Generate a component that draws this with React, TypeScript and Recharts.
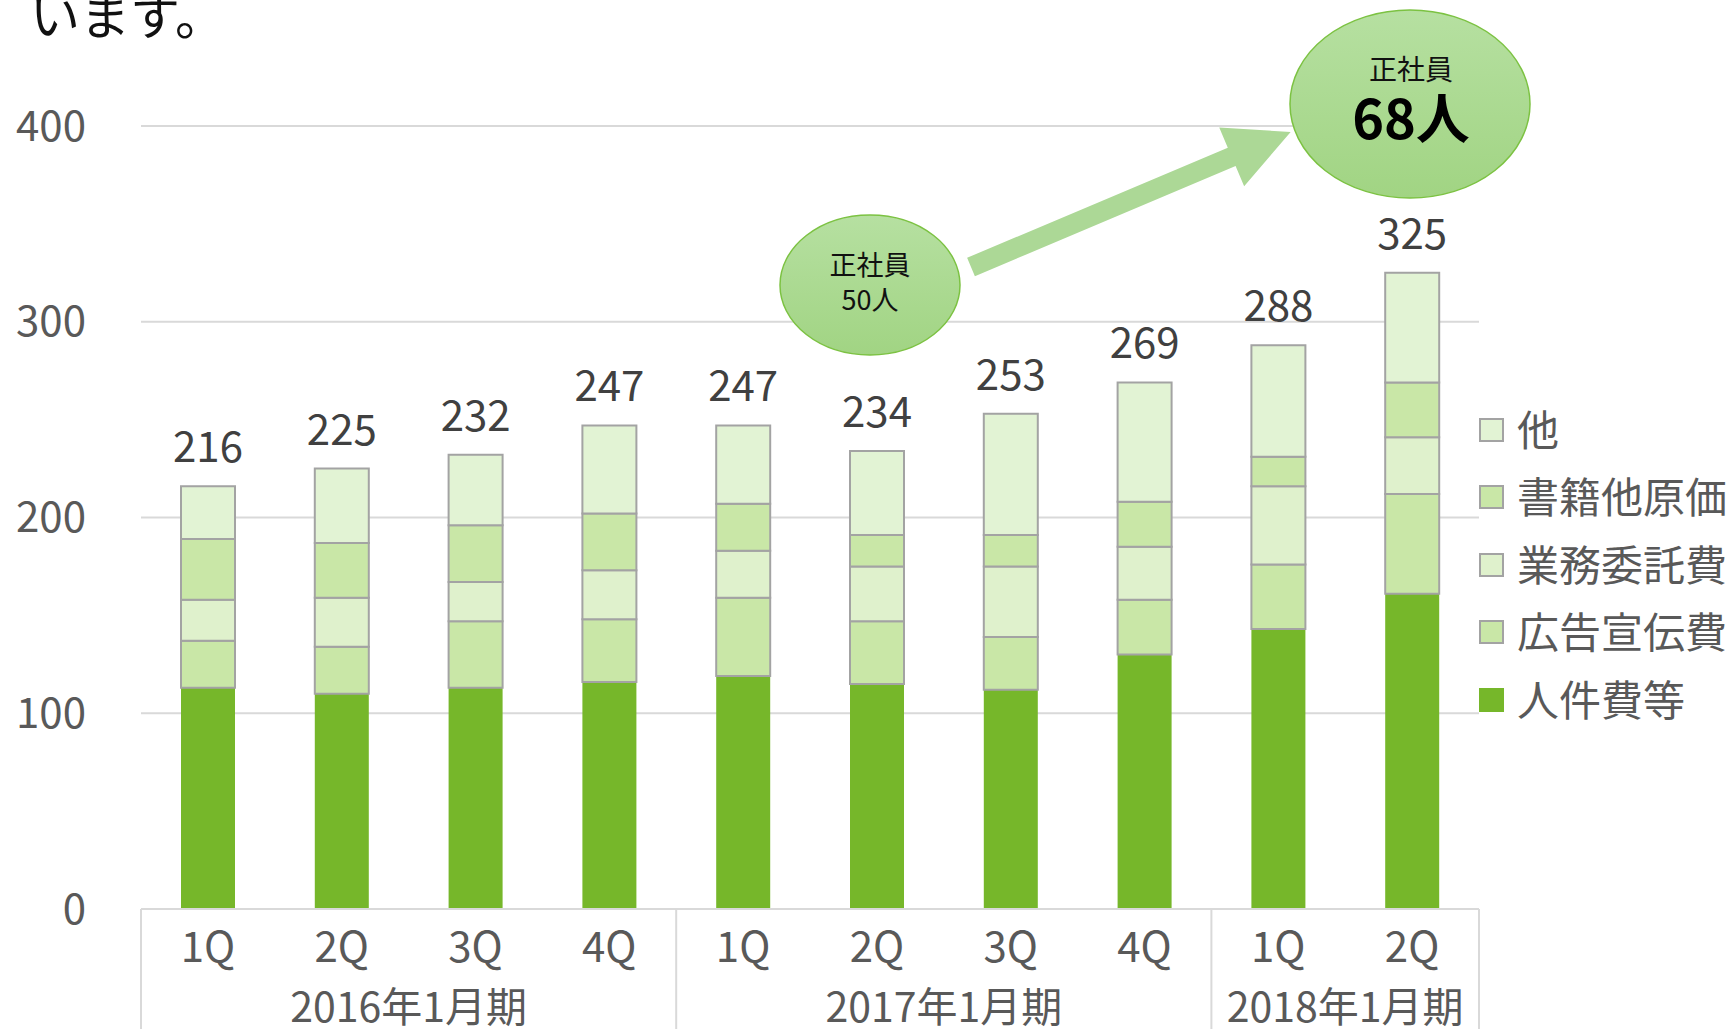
import { BarChart, Bar, XAxis, YAxis, CartesianGrid, Legend, LabelList } from 'recharts';

// 四半期ごとの費用内訳（百万円）
const quarters = ['1Q', '2Q', '3Q', '4Q', '1Q', '2Q', '3Q', '4Q', '1Q', '2Q'];
const fiscalYears = ['2016年1月期', '2017年1月期', '2018年1月期'];
const yearSpans = [4, 4, 2];

const jinkenhi = [113, 110, 113, 116, 119, 115, 112, 130, 143, 161];
const koukoku = [24, 24, 34, 32, 40, 32, 27, 28, 33, 51];
const gyoumu = [21, 25, 20, 25, 24, 28, 36, 27, 40, 29];
const shoseki = [31, 28, 29, 29, 24, 16, 16, 23, 15, 28];
const sonota = [27, 38, 36, 45, 40, 43, 62, 61, 57, 56];
const totals = [216, 225, 232, 247, 247, 234, 253, 269, 288, 325];

const yTicks = [0, 100, 200, 300, 400];

const W = 1729;
const H = 1029;
const Y_AXIS_W = 141;
const LEGEND_W = 250;
const PLOT_W = W - Y_AXIS_W - LEGEND_W;
const BAND = PLOT_W / quarters.length;
const X_AXIS_H = 120;

const FONT = '"Noto Sans CJK JP", "Noto Sans", sans-serif';
const GRID = '#d9d9d9';
const TEXT = '#595959';

const series = [
  { key: 'jinkenhi', name: '人件費等', fill: '#76b72a', stroke: 'none' },
  { key: 'koukoku', name: '広告宣伝費', fill: '#c9e7a7', stroke: '#a3a3a3' },
  { key: 'gyoumu', name: '業務委託費', fill: '#dff1cc', stroke: '#a3a3a3' },
  { key: 'shoseki', name: '書籍他原価', fill: '#c9e7a7', stroke: '#a3a3a3' },
  { key: 'sonota', name: '他', fill: '#e2f3d4', stroke: '#a3a3a3' },
];

const data = quarters.map((q, i) => ({
  q,
  jinkenhi: jinkenhi[i],
  koukoku: koukoku[i],
  gyoumu: gyoumu[i],
  shoseki: shoseki[i],
  sonota: sonota[i],
  total: totals[i],
}));

const groupStarts = yearSpans.map((_, g) => yearSpans.slice(0, g).reduce((a, b) => a + b, 0));

const QuarterTick = (props: any) => {
  const { x, y, payload, index } = props;
  const i = typeof index === 'number' ? index : payload.index;
  const g = groupStarts.indexOf(i);
  return (
    <g>
      <text x={x} y={y + 34} textAnchor="middle" dominantBaseline="central" fontSize={42} fill={TEXT} fontFamily={FONT}>
        {payload.value}
      </text>
      {g >= 0 && (
        <>
          <line x1={x - BAND / 2} x2={x - BAND / 2} y1={y} y2={y + X_AXIS_H} stroke={GRID} strokeWidth={2} />
          <text
            x={x + ((yearSpans[g] - 1) / 2) * BAND}
            y={y + 95}
            textAnchor="middle"
            dominantBaseline="central"
            fontSize={41}
            fill={TEXT}
            fontFamily={FONT}
          >
            {fiscalYears[g]}
          </text>
        </>
      )}
      {i === quarters.length - 1 && (
        <line x1={x + BAND / 2} x2={x + BAND / 2} y1={y} y2={y + X_AXIS_H} stroke={GRID} strokeWidth={2} />
      )}
    </g>
  );
};

const ValueTick = (props: any) => {
  const { x, y, payload } = props;
  return (
    <text x={x - 55} y={y - 4} textAnchor="end" dominantBaseline="central" fontSize={42} fill={TEXT} fontFamily={FONT}>
      {payload.value}
    </text>
  );
};

const TotalLabel = (props: any) => {
  const { x, y, width, value } = props;
  return (
    <text x={x + width / 2} y={y - 24} textAnchor="middle" fontSize={42} fill="#404040" fontFamily={FONT}>
      {value}
    </text>
  );
};

const LegendContent = () => (
  <div style={{ display: 'flex', flexDirection: 'column', fontFamily: FONT }}>
    {[...series].reverse().map((s) => (
      <div key={s.key} style={{ height: 67.5, display: 'flex', alignItems: 'center' }}>
        <span
          style={{
            width: 25,
            height: 24,
            boxSizing: 'border-box',
            background: s.fill,
            border: s.stroke === 'none' ? 'none' : `2px solid ${s.stroke}`,
            flex: 'none',
          }}
        />
        <span style={{ marginLeft: 13, fontSize: 42, lineHeight: 1, color: TEXT, whiteSpace: 'nowrap', position: 'relative', top: -2 }}>
          {s.name}
        </span>
      </div>
    ))}
  </div>
);

const Bubble = ({ cx, cy, rx, ry }: { cx: number; cy: number; rx: number; ry: number }) => (
  <ellipse cx={cx} cy={cy} rx={rx} ry={ry} fill="url(#bubbleFill)" stroke="#7cc242" strokeWidth={1.5} />
);

export default function App() {
  return (
    <div style={{ position: 'absolute', left: 0, top: 0, width: W, height: H, background: '#fff', overflow: 'hidden' }}>
      <BarChart width={W} height={H} data={data} margin={{ top: 126, right: 0, bottom: 0, left: 0 }} barSize={54}>
        <CartesianGrid vertical={false} stroke={GRID} strokeWidth={2} />
        <XAxis
          dataKey="q"
          interval={0}
          height={X_AXIS_H}
          tickLine={false}
          tickSize={0}
          tickMargin={0}
          axisLine={{ stroke: GRID, strokeWidth: 2 }}
          tick={<QuarterTick />}
        />
        <YAxis
          width={Y_AXIS_W}
          domain={[0, 400]}
          ticks={yTicks}
          axisLine={false}
          tickLine={false}
          tickSize={0}
          tickMargin={0}
          tick={<ValueTick />}
        />
        <Legend
          layout="vertical"
          align="right"
          verticalAlign="middle"
          content={<LegendContent />}
          wrapperStyle={{ top: 396, left: W - LEGEND_W, width: LEGEND_W }}
        />
        {series.map((s) => (
          <Bar
            key={s.key}
            dataKey={s.key}
            name={s.name}
            stackId="cost"
            fill={s.fill}
            stroke={s.stroke}
            strokeWidth={2}
            isAnimationActive={false}
          >
            {s.key === 'sonota' && <LabelList dataKey="total" content={<TotalLabel />} />}
          </Bar>
        ))}
      </BarChart>

      <svg width={W} height={H} style={{ position: 'absolute', left: 0, top: 0, pointerEvents: 'none' }}>
        <defs>
          <linearGradient id="bubbleFill" x1="0" y1="0" x2="0" y2="1">
            <stop offset="0%" stopColor="#b6e0a1" />
            <stop offset="100%" stopColor="#a1d483" />
          </linearGradient>
        </defs>
        <text x={30} y={35} fontSize={50} fill="#111" fontFamily={FONT}>
          います。
        </text>
        <g transform="translate(971 267) rotate(-22.9)">
          <polygon points="0,-10 283,-10 283,-32 347,0 283,32 283,10 0,10" fill="#acd896" />
        </g>
        <Bubble cx={870} cy={285} rx={90} ry={70} />
        <text x={870} y={263} textAnchor="middle" dominantBaseline="central" fontSize={27} fill="#111" fontFamily={FONT}>
          正社員
        </text>
        <text x={870} y={298} textAnchor="middle" dominantBaseline="central" fontSize={27} fill="#111" fontFamily={FONT}>
          50人
        </text>
        <Bubble cx={1410} cy={104} rx={120} ry={94} />
        <text x={1411} y={68} textAnchor="middle" dominantBaseline="central" fontSize={28} fill="#111" fontFamily={FONT}>
          正社員
        </text>
        <text x={1411} y={115} textAnchor="middle" dominantBaseline="central" fontSize={54} fontWeight="bold" fill="#000" fontFamily={FONT}>
          68人
        </text>
      </svg>
    </div>
  );
}
